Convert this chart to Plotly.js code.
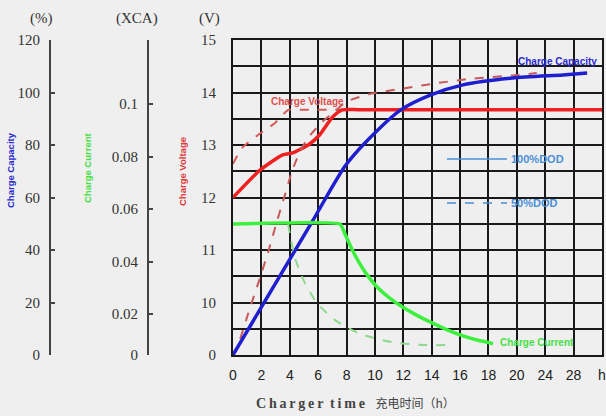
<!DOCTYPE html>
<html><head><meta charset="utf-8">
<script src="https://cdn.plot.ly/plotly-3.0.1.min.js"></script>
<style>html,body{margin:0;padding:0;background:#efefef;}</style>
</head><body><div id="chart" style="width:606px;height:416px;"></div>
<script>
// ---- tick labels ----
const xTickLabels = ['0','2','4','6','8','10','12','14','16','18','20','24','28','h'];
const voltTickVals = [9,9.5,10,10.5,11,11.5,12,12.5,13,13.5,14,14.5,15];
const voltTickText = ['0','','10','','11','','12','','13','','14','','15'];
const capTicks = [0,20,40,60,80,100,120];
const curTickVals = [0.0044,0.02,0.04,0.06,0.08,0.1];
const curTickText = ['0','0.02','0.04','0.06','0.08','0.1'];

// ---- data (time in hours) ----
const capFullH = [0, 2, 5.6, 7.9, 9.5, 11.8, 13.9, 16.2, 19.7, 26.5, 29.9];
const capFull  = [0, 18.2, 51, 72, 81.9, 93.3, 99, 102.9, 105.5, 106.7, 107.4];

const capHalfH = [0, 0.3, 1.2, 2.0, 2.6, 3.1, 3.66, 4.16, 4.72, 5.4, 6.3, 7.2, 8.0, 9.7, 12, 14.4, 16.9, 19.7, 22.8];
const capHalf  = [0, 3, 18, 31, 41.5, 51, 61, 70, 77.5, 83.5, 88.8, 93, 96.5, 99.5, 101.5, 103.6, 105.3, 106.5, 107.4];

const voltFullH = [0, 1.9, 3.5, 4.2, 5.3, 6.1, 7.0, 7.7, 9, 32];
const voltFull  = [12.0, 12.52, 12.81, 12.85, 13.0, 13.19, 13.53, 13.67, 13.67, 13.67];

const voltHalfH = [0, 0.63, 1.76, 2.96, 3.9, 5, 7.7];
const voltHalf  = [12.64, 12.94, 13.19, 13.42, 13.67, 13.67, 13.67];

const curFullH = [0, 7.54, 7.89, 8.25, 8.74, 9.37, 10.15, 11.06, 11.98, 12.9, 13.88, 15.01, 16.21, 17.27, 18.32];
const curFull  = [0.0543, 0.0543, 0.0505, 0.0462, 0.041, 0.0355, 0.0303, 0.026, 0.0226, 0.0197, 0.017, 0.0142, 0.0117, 0.01, 0.0087];

const curHalfH = [3.88, 4.09, 4.37, 5.07, 5.92, 7.19, 8.81, 11.2, 13.5, 15.3];
const curHalf  = [0.0543, 0.0482, 0.0413, 0.0318, 0.0242, 0.0177, 0.0128, 0.0093, 0.0082, 0.0082];

// time axis is piecewise: 2 h per division up to 20 h, then 4 h per division
function toAxis(h){ return h <= 20 ? h/2 : 10 + (h-20)/4; }
const mapT = arr => arr.map(toAxis);

const W = 606, TOP = 40, BOT = 355;
const px = x => x / W;
const py = y => (BOT - y) / (BOT - TOP);

const traces = [
  {x: mapT(capHalfH), y: capHalf, yaxis: 'y2', mode: 'lines',
   line: {color: '#c65a5a', width: 2, dash: 'dash', shape: 'spline', smoothing: 0.7}},
  {x: mapT(voltHalfH), y: voltHalf, yaxis: 'y', mode: 'lines',
   line: {color: '#d65a5a', width: 2, dash: 'dash', shape: 'spline', smoothing: 0.6}},
  {x: mapT(curHalfH), y: curHalf, yaxis: 'y3', mode: 'lines',
   line: {color: '#8fd88f', width: 2, dash: 'dash', shape: 'spline', smoothing: 0.7}},
  {x: mapT(curFullH), y: curFull, yaxis: 'y3', mode: 'lines',
   line: {color: '#3ef03e', width: 3.5, shape: 'spline', smoothing: 0.35}},
  {x: mapT(voltFullH), y: voltFull, yaxis: 'y', mode: 'lines',
   line: {color: '#ee2020', width: 3.5, shape: 'spline', smoothing: 0.6}},
  {x: mapT(capFullH), y: capFull, yaxis: 'y2', mode: 'lines',
   line: {color: '#1f1fd0', width: 3.5, shape: 'spline', smoothing: 0.7}}
];

const tickFont = {family: 'Liberation Serif, Times New Roman, serif', size: 15, color: '#333'};
const sans = 'Liberation Sans, Arial, sans-serif';
const TS = '\u2009';
const spaced = s => s.split('').join(TS);

const layout = {
  width: 606, height: 416,
  margin: {l: 0, r: 0, t: TOP, b: 416 - BOT, pad: 0},
  paper_bgcolor: '#efefef', plot_bgcolor: '#efefef',
  showlegend: false,
  xaxis: {
    domain: [px(233), px(602)], range: [0, 13],
    tickvals: xTickLabels.map((_, i) => i), ticktext: xTickLabels,
    showgrid: true, gridcolor: '#1a1a1a', gridwidth: 2,
    showline: true, linecolor: '#1a1a1a', linewidth: 2, mirror: true,
    zeroline: false, ticks: '', ticklabelstandoff: 6,
    tickfont: {family: sans, size: 14, color: '#222'}
  },
  yaxis: {
    range: [9, 15], tickvals: voltTickVals, ticktext: voltTickText,
    showgrid: true, gridcolor: '#1a1a1a', gridwidth: 2,
    showline: true, linecolor: '#1a1a1a', linewidth: 2, mirror: true,
    zeroline: false, ticks: '', ticklabelstandoff: 12, tickfont: tickFont
  },
  yaxis2: {
    overlaying: 'y', anchor: 'free', position: px(50), side: 'left',
    range: [0, 120], tickvals: capTicks,
    showgrid: false, zeroline: false,
    showline: true, linecolor: '#444', linewidth: 2,
    ticks: 'inside', ticklen: 4, tickwidth: 2, tickcolor: '#444',
    ticklabelstandoff: 6, tickfont: tickFont
  },
  yaxis3: {
    overlaying: 'y', anchor: 'free', position: px(148), side: 'left',
    range: [0.0044, 0.1244], tickvals: curTickVals, ticktext: curTickText,
    showgrid: false, zeroline: false,
    showline: true, linecolor: '#444', linewidth: 2,
    ticks: 'inside', ticklen: 4, tickwidth: 2, tickcolor: '#444',
    ticklabelstandoff: 6, tickfont: tickFont
  },
  shapes: [
    {type: 'line', xref: 'paper', yref: 'paper', x0: px(447), x1: px(507), y0: py(159), y1: py(159),
     line: {color: '#4a8fd8', width: 1.5}},
    {type: 'line', xref: 'paper', yref: 'paper', x0: px(447), x1: px(507), y0: py(203), y1: py(203),
     line: {color: '#4a8fd8', width: 1.5, dash: 'dash'}}
  ],
  annotations: [
    {text: '(%)', x: px(41), y: py(18)},
    {text: '(XCA)', x: px(137), y: py(18)},
    {text: '(V)', x: px(210), y: py(18)},
    {text: '<b>Charge Capacity</b>', x: px(10), y: py(170), textangle: -90,
     font: {family: sans, size: 9.5, color: '#2a2ad0'}},
    {text: '<b>Charge Current</b>', x: px(87), y: py(168), textangle: -90,
     font: {family: sans, size: 9.5, color: '#44e044'}},
    {text: '<b>Charge Voltage</b>', x: px(183), y: py(172), textangle: -90,
     font: {family: sans, size: 9.5, color: '#e03a3a'}},
    {text: '<b>Charge Capacity</b>', x: px(557), y: py(61),
     font: {family: sans, size: 10, color: '#2a2ad0'}},
    {text: '<b>Charge Voltage</b>', x: px(307), y: py(101),
     font: {family: sans, size: 10, color: '#e05050'}},
    {text: '<b>Charge Current</b>', x: px(537), y: py(342),
     font: {family: sans, size: 10, color: '#44e044'}},
    {text: '<b>100%DOD</b>', x: px(509), y: py(159), xanchor: 'left',
     font: {family: sans, size: 11, color: '#4a8fd8'}},
    {text: '<b>50%DOD</b>', x: px(509), y: py(203), xanchor: 'left',
     font: {family: sans, size: 11, color: '#4a8fd8'}},
    {text: '<b>' + spaced('Charger') + '  ' + spaced('time') + '</b>   <span style="font-family:Noto Sans CJK SC;font-size:12px">充电时间（h）</span>',
     x: px(355), y: py(403),
     font: {family: 'Liberation Serif, Times New Roman, serif', size: 14, color: '#444'}}
  ].map(a => Object.assign({xref: 'paper', yref: 'paper', showarrow: false,
     xanchor: 'center', yanchor: 'middle',
     font: {family: 'Liberation Serif, Times New Roman, serif', size: 15, color: '#333'}}, a))
};

Plotly.newPlot('chart', traces, layout, {displayModeBar: false, staticPlot: true});
</script></body></html>
